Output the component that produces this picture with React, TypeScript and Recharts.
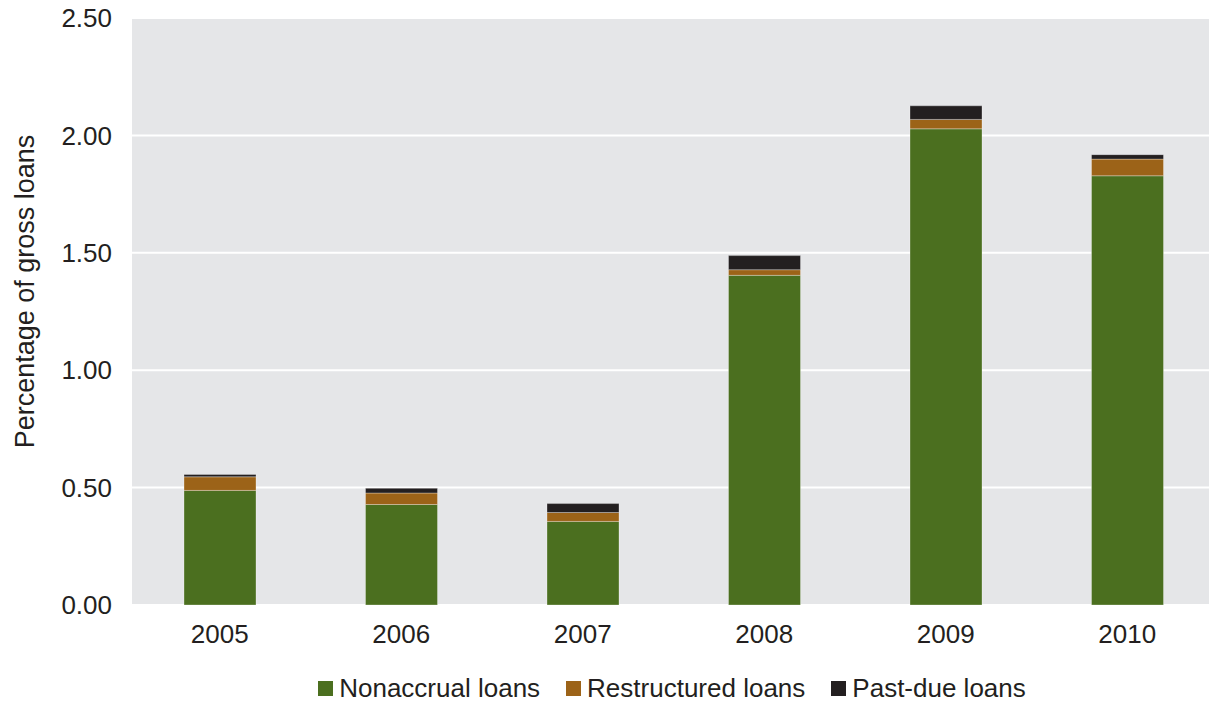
import { Bar, BarChart, CartesianGrid, Legend, XAxis, YAxis } from 'recharts';

const years = ['2005', '2006', '2007', '2008', '2009', '2010'];
const nonaccrual = [0.488, 0.428, 0.356, 1.404, 2.028, 1.828];
const restructured = [0.058, 0.049, 0.038, 0.024, 0.04, 0.071];
const pastDue = [0.01, 0.02, 0.038, 0.06, 0.058, 0.019];
const yTicks = [0, 0.5, 1, 1.5, 2, 2.5];

const data = years.map((year, i) => ({
  year,
  nonaccrual: nonaccrual[i],
  restructured: restructured[i],
  pastDue: pastDue[i],
}));

const FONT = '"Liberation Sans", Arial, sans-serif';
const INK = '#231f20';

const series = [
  { key: 'nonaccrual', name: 'Nonaccrual loans', color: '#4b6f1f' },
  { key: 'restructured', name: 'Restructured loans', color: '#9c6318' },
  { key: 'pastDue', name: 'Past-due loans', color: '#231f20' },
];

function LegendRow() {
  return (
    <div
      style={{
        display: 'flex',
        justifyContent: 'center',
        gap: 26,
        paddingLeft: 126,
        fontFamily: FONT,
        fontSize: 26,
        lineHeight: '30px',
        color: INK,
      }}
    >
      {series.map((s) => (
        <div key={s.key} style={{ display: 'flex', alignItems: 'center', gap: 6 }}>
          <span style={{ width: 15, height: 15, background: s.color, display: 'inline-block' }} />
          <span>{s.name}</span>
        </div>
      ))}
    </div>
  );
}

export default function App() {
  return (
    <div style={{ position: 'fixed', left: 0, top: 0, width: 1209, height: 703, overflow: 'hidden', background: '#fff' }}>
      <BarChart width={1218} height={703} data={data} margin={{ top: 18, right: 0, bottom: 0, left: 0 }}>
        <CartesianGrid vertical={false} stroke="#ffffff" strokeWidth={2} fill="#e5e6e8" />
        <XAxis
          dataKey="year"
          axisLine={false}
          tickLine={false}
          tickSize={0}
          tickMargin={20}
          height={68}
          padding={{ left: -3, right: 0 }}
          tick={{ fill: INK, fontSize: 26, fontFamily: FONT }}
        />
        <YAxis
          domain={[0, 2.5]}
          ticks={yTicks}
          width={132}
          axisLine={false}
          tickLine={false}
          tickSize={0}
          tickMargin={20}
          tickFormatter={(v: number) => v.toFixed(2)}
          tick={{ fill: INK, fontSize: 26, fontFamily: FONT }}
          label={{
            value: 'Percentage of gross loans',
            angle: -90,
            position: 'insideLeft',
            offset: 24,
            dy: -20,
            style: { textAnchor: 'middle', fill: INK, fontSize: 27, fontFamily: FONT },
          }}
        />
        <Legend verticalAlign="bottom" content={() => <LegendRow />} />
        {series.map((s) => (
          <Bar
            key={s.key}
            dataKey={s.key}
            name={s.name}
            stackId="a"
            fill={s.color}
            barSize={72}
            stroke="rgba(255,255,255,0.3)"
            strokeWidth={1}
            isAnimationActive={false}
          />
        ))}
      </BarChart>
    </div>
  );
}
